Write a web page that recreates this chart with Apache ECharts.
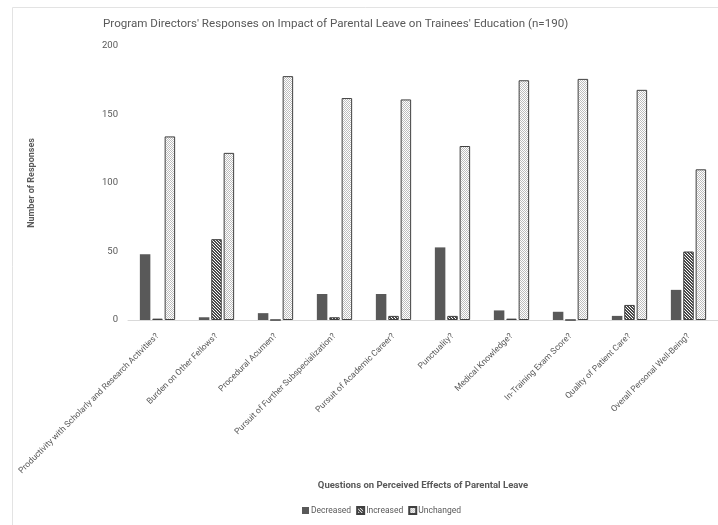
<!DOCTYPE html>
<html>
<head>
<meta charset="utf-8">
<script src="https://cdn.jsdelivr.net/npm/echarts@6/dist/echarts.min.js"></script>
<style>
  html, body { margin: 0; padding: 0; background: #fff; }
  #chart { width: 718px; height: 525px; }
</style>
</head>
<body>
<div id="chart"></div>
<script>
// Survey questions (x-axis categories)
const categories = [
  'Productivity with Scholarly and Research Activities?',
  'Burden on Other Fellows?',
  'Procedural Acumen?',
  'Pursuit of Further Subspecialization?',
  'Pursuit of Academic Career?',
  'Punctuality?',
  'Medical Knowledge?',
  'In-Training Exam Score?',
  'Quality of Patient Care?',
  'Overall Personal Well-Being?'
];

// Response counts per answer
const decreased = [48, 2, 5, 19, 19, 53, 7, 6, 3, 22];
const increased = [1, 59, 0, 2, 3, 3, 1, 0, 11, 50];
const unchanged = [134, 122, 178, 162, 161, 127, 175, 176, 168, 110];

const yTicks = [0, 50, 100, 150, 200];

const FONT = 'Roboto, "Open Sans", sans-serif';
const TEXT = '#595959';

// Fill patterns for the hatched and dotted bars
function makePattern(size, draw) {
  const c = document.createElement('canvas');
  c.width = size; c.height = size;
  const ctx = c.getContext('2d');
  ctx.fillStyle = '#ffffff';
  ctx.fillRect(0, 0, size, size);
  draw(ctx);
  return { image: c, repeat: 'repeat' };
}
const hatch = makePattern(3, ctx => {
  ctx.fillStyle = '#4a4a4a';
  for (let i = 0; i < 3; i++) {
    ctx.fillRect(i, i, 1, 1);
    ctx.fillRect((i + 1) % 3, i, 1, 1);
  }
});
const dots = makePattern(2, ctx => {
  ctx.fillStyle = '#bdbdbd';
  ctx.fillRect(0, 0, 1, 1);
  ctx.fillRect(1, 1, 1, 1);
});

const chart = echarts.init(document.getElementById('chart'), null, { renderer: 'canvas' });

const barBase = { type: 'bar', barWidth: 10.5, barGap: '18%' };

chart.setOption({
  animation: false,
  backgroundColor: '#ffffff',
  textStyle: { fontFamily: FONT },
  title: {
    text: "Program Directors' Responses on Impact of Parental Leave on Trainees' Education (n=190)",
    left: 98, top: 13,
    textStyle: { fontFamily: FONT, fontSize: 11.6, fontWeight: 'normal', color: TEXT }
  },
  graphic: [{
    type: 'rect',
    shape: { x: 12.5, y: 7.5, width: 900, height: 700 },
    style: { fill: 'none', stroke: '#e3e3e3', lineWidth: 1 },
    silent: true
  }, {
    type: 'text',
    x: 423, y: 486,
    style: {
      text: 'Questions on Perceived Effects of Parental Leave',
      fontFamily: FONT, fontSize: 9.5, fontWeight: 'bold', fill: TEXT,
      align: 'center', verticalAlign: 'middle'
    },
    silent: true
  }],
  legend: {
    left: 297, top: 501,
    icon: 'rect',
    itemWidth: 7, itemHeight: 7, itemGap: 5,
    textStyle: { fontFamily: FONT, fontSize: 8.5, color: TEXT, padding: [0, 0, 0, -3] },
    data: ['Decreased', 'Increased', 'Unchanged']
  },
  grid: { left: 128, right: 0, top: 46, bottom: 205, containLabel: false, outerBoundsMode: 'none' },
  xAxis: {
    type: 'category',
    data: categories,
    axisLine: { lineStyle: { color: '#d9d9d9' } },
    axisTick: { show: false },
    axisLabel: { rotate: 45, margin: 15, fontSize: 8.5, color: TEXT, fontFamily: FONT, interval: 0 }
  },
  yAxis: {
    type: 'value',
    min: yTicks[0], max: yTicks[yTicks.length - 1], interval: 50,
    name: 'Number of Responses',
    nameLocation: 'middle', nameRotate: 90, nameGap: 92,
    nameTextStyle: { fontFamily: FONT, fontSize: 9, fontWeight: 'bold', color: TEXT },
    splitLine: { show: false },
    axisLine: { show: false },
    axisTick: { show: false },
    axisLabel: { fontSize: 9.5, color: TEXT, fontFamily: FONT, margin: 10 }
  },
  series: [
    Object.assign({}, barBase, {
      name: 'Decreased', data: decreased,
      itemStyle: { color: '#595959' }
    }),
    Object.assign({}, barBase, {
      name: 'Increased', data: increased,
      itemStyle: { color: hatch, borderColor: '#404040', borderWidth: 1 }
    }),
    Object.assign({}, barBase, {
      name: 'Unchanged', data: unchanged,
      itemStyle: { color: dots, borderColor: '#404040', borderWidth: 1 }
    })
  ]
});
</script>
</body>
</html>
